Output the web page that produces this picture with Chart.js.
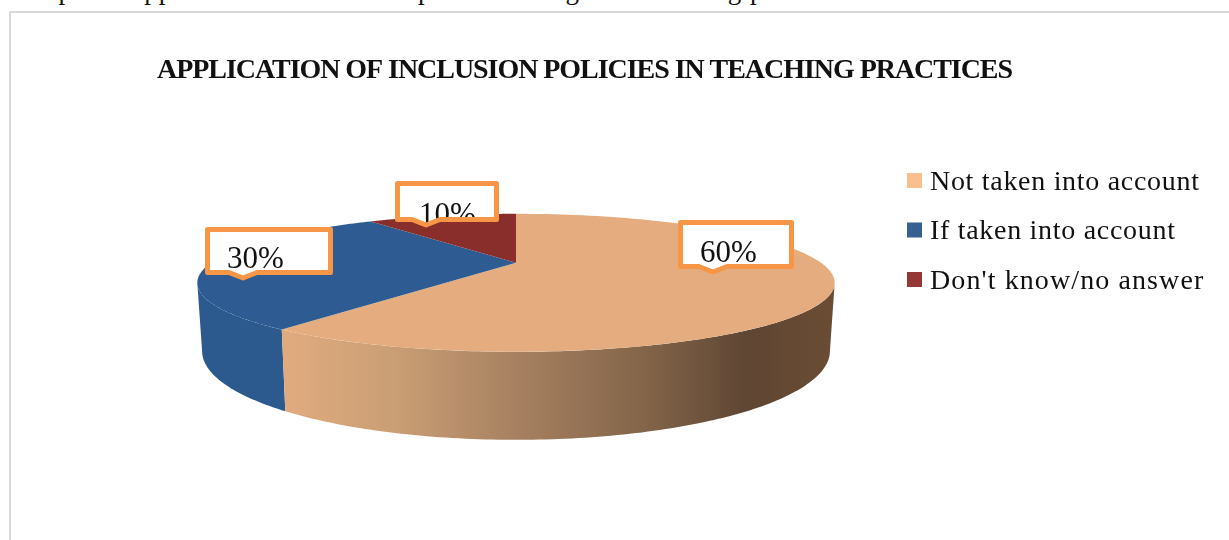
<!DOCTYPE html>
<html>
<head>
<meta charset="utf-8">
<title>Application of inclusion policies</title>
<script src="https://cdn.jsdelivr.net/npm/chart.js@4"></script>
<style>
  html, body { margin: 0; padding: 0; background: #fff; overflow: hidden; }
  #page { position: relative; width: 1229px; height: 540px; overflow: hidden; }
  #caption { position: absolute; left: 15px; top: -25px; font: 27px "Liberation Serif", serif; letter-spacing: 1px; color: #111; white-space: nowrap; }
  #frame { position: absolute; left: 9px; top: 11px; width: 1300px; height: 600px; border: 2px solid #d9d9d9; }
  canvas { position: absolute; left: 0; top: 0; }
</style>
</head>
<body>
<div id="page">
  <div id="caption">Graph 1. Application of inclusion policies in light of teaching practices</div>
  <div id="frame"></div>
  <canvas id="chart" width="1229" height="540"></canvas>
</div>
<script>
const categories = ["Not taken into account", "If taken into account", "Don't know/no answer"];
const shares = [60, 30, 10];
const legendColors = ["#FBBF8F", "#376092", "#953735"];
const topColors = ["#E5AD7F", "#2E5C92", "#8A2E2B"];
const wallColors = [null, "#2D5A8E", "#7A2825"];
const chartTitle = "APPLICATION OF INCLUSION POLICIES IN TEACHING PRACTICES";

// callout boxes: outer edge of the orange border, tip of the little pointer, text start
const callouts = [
  { l: 678, t: 220, r: 794, b: 269, tipX: 713, textX: 700, baseY: 262 },
  { l: 205, t: 227, r: 333, b: 275, tipX: 243, textX: 227, baseY: 268 },
  { l: 395, t: 181, r: 499, b: 222, tipX: 426, textX: 419, baseY: 224 }
];

// legend rows, drawn by hand because the gap box/text is narrower than Chart.js allows
const legendBox = { x: 907, size: 15, firstY: 173, rowGap: 49.5, textX: 930 };

// tilted view of the pie: the near side looks bigger, so the hub is not in the ellipse middle
const view = { shiftX: -165, radius: 305, squash: 63.2, persp: 0.29, depth: 62.5, bottomScale: 0.985 };

function project(arc, angle, down) {
  const u = Math.cos(angle), v = Math.sin(angle);
  const w = 1 - view.persp * v;
  const cx = arc.x + view.shiftX;
  if (down) {
    return { x: cx + view.bottomScale * view.radius * u / w, y: arc.y + view.squash * v / w + view.depth / w };
  }
  return { x: cx + view.radius * u / w, y: arc.y + view.squash * v / w };
}

function edge(ctx, arc, from, to, down) {
  const steps = 120;
  for (let i = 0; i <= steps; i++) {
    const p = project(arc, from + (to - from) * i / steps, down);
    ctx.lineTo(p.x, p.y);
  }
}

function wallFill(ctx, arc, i) {
  if (wallColors[i]) return wallColors[i];
  const cx = arc.x + view.shiftX;
  const g = ctx.createLinearGradient(cx - 228, 0, cx + 318, 0);
  g.addColorStop(0, "#E0AA7E");
  g.addColorStop(0.2, "#C99E74");
  g.addColorStop(0.42, "#A68060");
  g.addColorStop(0.65, "#84654A");
  g.addColorStop(0.84, "#5F4633");
  g.addColorStop(1, "#6A4C33");
  return g;
}

function drawCallout(ctx, c, text) {
  const lw = 5, h = lw / 2;
  const path = () => {
    ctx.beginPath();
    ctx.moveTo(c.l + h, c.t + h);
    ctx.lineTo(c.r - h, c.t + h);
    ctx.lineTo(c.r - h, c.b - h);
    ctx.lineTo(c.tipX + 14, c.b - h);
    ctx.lineTo(c.tipX, c.b + 3);
    ctx.lineTo(c.tipX - 14, c.b - h);
    ctx.lineTo(c.l + h, c.b - h);
    ctx.closePath();
  };
  path();
  ctx.fillStyle = "#fff";
  ctx.fill();
  ctx.save();
  ctx.clip();
  ctx.fillStyle = "#111";
  ctx.font = '31px "Liberation Serif", serif';
  ctx.textBaseline = "alphabetic";
  ctx.textAlign = "left";
  ctx.fillText(text, c.textX, c.baseY);
  ctx.restore();
  path();
  ctx.strokeStyle = "#F79646";
  ctx.lineWidth = lw;
  ctx.lineJoin = "round";
  ctx.stroke();
}

function drawLegend(ctx) {
  ctx.save();
  ctx.font = '28px "Liberation Serif", serif';
  ctx.textBaseline = "middle";
  ctx.textAlign = "left";
  categories.forEach((name, i) => {
    const y = legendBox.firstY + i * legendBox.rowGap;
    ctx.fillStyle = legendColors[i];
    ctx.fillRect(legendBox.x, y, legendBox.size, legendBox.size);
    // the last row runs a little wider in the original
    ctx.letterSpacing = i === 2 ? "1.1px" : "0.7px";
    ctx.fillStyle = "#111";
    ctx.fillText(name, legendBox.textX, y + legendBox.size / 2 + 2);
  });
  ctx.restore();
}

const tiltedPie = {
  id: "tiltedPie",
  beforeDraw(chart) {
    // title font is narrower in the original
    chart.ctx.letterSpacing = "-1.05px";
  },
  beforeDatasetsDraw(chart) {
    const ctx = chart.ctx;
    ctx.letterSpacing = "0px";
    const arcs = chart.getDatasetMeta(0).data;
    // only the near side of the rim shows
    const edgeR = Math.asin(view.persp), edgeL = Math.PI - edgeR;
    ctx.save();
    for (let i = arcs.length - 1; i >= 0; i--) {
      const a = arcs[i];
      const from = Math.max(a.startAngle, edgeR), to = Math.min(a.endAngle, edgeL);
      if (to <= from) continue;
      ctx.beginPath();
      edge(ctx, a, from, to, false);
      edge(ctx, a, to, from, true);
      ctx.closePath();
      ctx.fillStyle = wallFill(ctx, a, i);
      ctx.fill();
    }
    arcs.forEach((a, i) => {
      ctx.beginPath();
      ctx.moveTo(a.x + view.shiftX, a.y);
      edge(ctx, a, a.startAngle, a.endAngle, false);
      ctx.closePath();
      ctx.fillStyle = topColors[i];
      ctx.fill();
    });
    ctx.restore();
    arcs.forEach((a, i) => drawCallout(ctx, callouts[i], shares[i] + "%"));
    drawLegend(ctx);
    return false;
  }
};

new Chart(document.getElementById("chart"), {
  type: "pie",
  data: {
    labels: categories,
    datasets: [{ data: shares, backgroundColor: legendColors, borderWidth: 0 }]
  },
  options: {
    responsive: false,
    animation: false,
    layout: { padding: { left: 157, right: 24, top: 54, bottom: 115 } },
    plugins: {
      tooltip: { enabled: false },
      legend: { display: false },
      title: {
        display: true,
        text: chartTitle,
        align: "start",
        color: "#111",
        font: { family: '"Liberation Serif", serif', size: 28, weight: "bold" },
        padding: { top: 0, bottom: 13 }
      }
    }
  },
  plugins: [tiltedPie]
});
</script>
</body>
</html>
